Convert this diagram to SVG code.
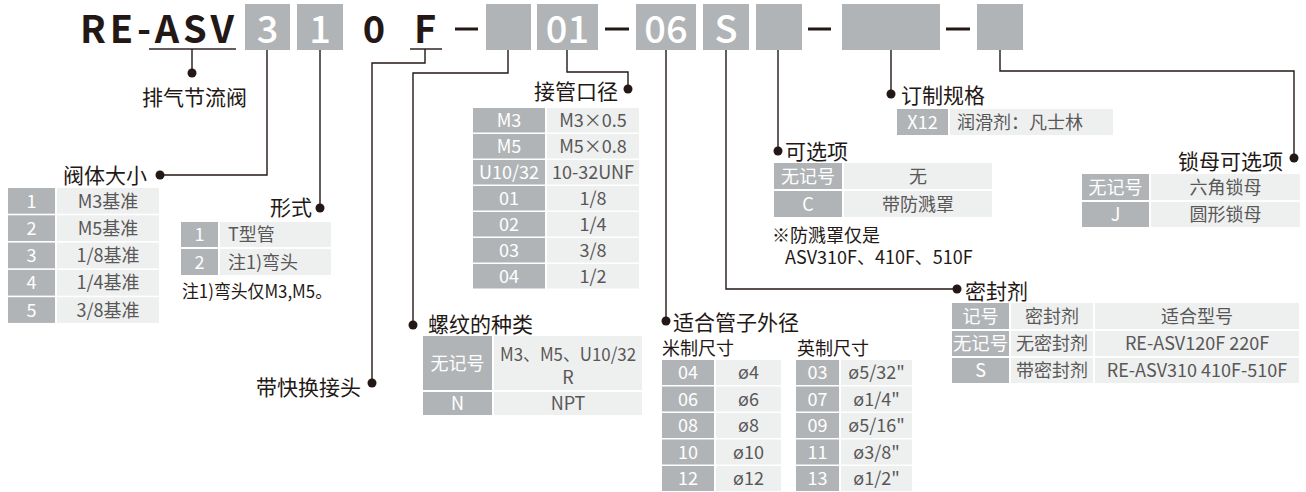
<svg xmlns="http://www.w3.org/2000/svg" width="1306" height="492" viewBox="0 0 1306 492">
<style>
text{font-family:"Noto Sans CJK SC","Noto Sans",sans-serif}
.hb{fill:#b1b4b6}
.g{fill:#b1b4b6}
.l{fill:#eeefef}
.big{font-size:38px;font-weight:700;fill:#231815}
.bw{font-size:38px;font-weight:500;fill:#fff;text-anchor:middle}
.h{font-size:21px;fill:#231815}
.s{font-size:18px;fill:#231815}
.w{font-size:18px;fill:#fff;text-anchor:middle}
.t{font-size:18px;fill:#595757;text-anchor:middle}
.ts{font-size:18px;fill:#595757}
.n{font-size:18px;fill:#231815}
.ln{fill:none;stroke:#231815;stroke-width:1.4}
.dot{fill:#231815}
</style>

<g id="header">
<text class="big" x="80" y="43" textLength="154" lengthAdjust="spacing">RE-ASV</text>
<rect x="149" y="48.3" width="87" height="1.4" fill="#231815"/>
<rect class="hb" x="245" y="4" width="45" height="46"/>
<text class="bw" x="267.5" y="43">3</text>
<rect class="hb" x="297" y="4" width="46" height="46"/>
<text class="bw" x="320" y="43">1</text>
<text class="big" x="374" y="43" text-anchor="middle">0</text>
<text class="big" x="425" y="43" text-anchor="middle">F</text>
<rect x="410" y="48.3" width="32" height="1.4" fill="#231815"/>
<rect x="455" y="27.5" width="23" height="3" fill="#231815"/>
<rect class="hb" x="486" y="4" width="45" height="46"/>
<rect class="hb" x="537" y="4" width="61" height="46"/>
<text class="bw" x="567.5" y="43">01</text>
<rect x="605" y="27.5" width="24" height="3" fill="#231815"/>
<rect class="hb" x="636" y="4" width="60" height="46"/>
<text class="bw" x="666" y="43">06</text>
<rect class="hb" x="703" y="4" width="46" height="46"/>
<text class="bw" x="726" y="43">S</text>
<rect class="hb" x="756" y="4" width="46" height="46"/>
<rect x="808" y="27.5" width="23" height="3" fill="#231815"/>
<rect class="hb" x="842" y="4" width="98" height="46"/>
<rect x="946" y="27.5" width="24" height="3" fill="#231815"/>
<rect class="hb" x="977" y="4" width="46" height="46"/>
</g>

<g id="connectors">
<polyline class="ln" points="192,49 192,73"/>
<circle class="dot" cx="192" cy="73" r="4.5"/>
<polyline class="ln" points="267,50 267,175 160,175"/>
<circle class="dot" cx="160" cy="175" r="4.5"/>
<polyline class="ln" points="320,50 320,208"/>
<circle class="dot" cx="320" cy="208" r="4.5"/>
<polyline class="ln" points="425,49 425,63 372,63 372,383"/>
<circle class="dot" cx="372" cy="383" r="4.5"/>
<polyline class="ln" points="508,50 508,73 413,73 413,325"/>
<circle class="dot" cx="413" cy="325" r="4.5"/>
<polyline class="ln" points="567,50 567,72 628,72 628,89"/>
<circle class="dot" cx="628" cy="89" r="4.5"/>
<polyline class="ln" points="666,50 666,321"/>
<circle class="dot" cx="666" cy="321" r="4.5"/>
<polyline class="ln" points="726,50 726,289 957,289"/>
<circle class="dot" cx="957" cy="289" r="4.5"/>
<polyline class="ln" points="778,50 778,151"/>
<circle class="dot" cx="778" cy="151" r="4.5"/>
<polyline class="ln" points="891,50 891,94"/>
<circle class="dot" cx="891" cy="94" r="4.5"/>
<polyline class="ln" points="1000,50 1000,71 1294,71 1294,158"/>
<circle class="dot" cx="1294" cy="158" r="4.5"/>
</g>

<g id="node-type">
<text class="h" x="142" y="104.5" font-size="20">排气节流阀</text>
</g>

<g id="node-size">
<text class="h" x="63" y="183" font-size="20">阀体大小</text>
<rect class="g" x="8" y="188" width="47" height="25.7"/><rect class="l" x="57" y="188" width="102" height="25.7"/>
<text class="w" x="31.5" y="207.5">1</text><text class="t" x="108" y="207.5">M3基准</text>
<rect class="g" x="8" y="215.3" width="47" height="25.7"/><rect class="l" x="57" y="215.3" width="102" height="25.7"/>
<text class="w" x="31.5" y="234.8">2</text><text class="t" x="108" y="234.8">M5基准</text>
<rect class="g" x="8" y="242.6" width="47" height="25.7"/><rect class="l" x="57" y="242.6" width="102" height="25.7"/>
<text class="w" x="31.5" y="262.1">3</text><text class="t" x="108" y="262.1">1/8基准</text>
<rect class="g" x="8" y="269.9" width="47" height="25.7"/><rect class="l" x="57" y="269.9" width="102" height="25.7"/>
<text class="w" x="31.5" y="289.4">4</text><text class="t" x="108" y="289.4">1/4基准</text>
<rect class="g" x="8" y="297.2" width="47" height="25.7"/><rect class="l" x="57" y="297.2" width="102" height="25.7"/>
<text class="w" x="31.5" y="316.7">5</text><text class="t" x="108" y="316.7">3/8基准</text>
</g>

<g id="node-form">
<text class="h" x="312" y="214.5" text-anchor="end" font-size="20">形式</text>
<rect class="g" x="181" y="222" width="37" height="25"/><rect class="l" x="220" y="222" width="111" height="25"/>
<text class="w" x="199.5" y="241">1</text><text class="ts" x="228" y="241">T型管</text>
<rect class="g" x="181" y="249" width="37" height="26"/><rect class="l" x="220" y="249" width="111" height="26"/>
<text class="w" x="199.5" y="268.5">2</text><text class="ts" x="228" y="268.5">注1)弯头</text>
<text class="n" x="182" y="297.5" textLength="150" lengthAdjust="spacingAndGlyphs">注1)弯头仅M3,M5。</text>
</g>

<g id="node-quick">
<text class="h" x="361" y="395" text-anchor="end" font-size="20">带快换接头</text>
</g>

<g id="node-port">
<text class="h" x="618" y="99" text-anchor="end">接管口径</text>
<rect class="g" x="473" y="108" width="72" height="24.5"/><rect class="l" x="547" y="108" width="92" height="24.5"/>
<text class="w" x="509" y="126.8">M3</text><text class="t" x="593" y="126.8">M3×0.5</text>
<rect class="g" x="473" y="134" width="72" height="24.5"/><rect class="l" x="547" y="134" width="92" height="24.5"/>
<text class="w" x="509" y="152.8">M5</text><text class="t" x="593" y="152.8">M5×0.8</text>
<rect class="g" x="473" y="160" width="72" height="24.5"/><rect class="l" x="547" y="160" width="92" height="24.5"/>
<text class="w" x="509" y="178.8">U10/32</text><text class="t" x="593" y="178.8">10-32UNF</text>
<rect class="g" x="473" y="186" width="72" height="24.5"/><rect class="l" x="547" y="186" width="92" height="24.5"/>
<text class="w" x="509" y="204.8">01</text><text class="t" x="593" y="204.8">1/8</text>
<rect class="g" x="473" y="212" width="72" height="24.5"/><rect class="l" x="547" y="212" width="92" height="24.5"/>
<text class="w" x="509" y="230.8">02</text><text class="t" x="593" y="230.8">1/4</text>
<rect class="g" x="473" y="238" width="72" height="24.5"/><rect class="l" x="547" y="238" width="92" height="24.5"/>
<text class="w" x="509" y="256.8">03</text><text class="t" x="593" y="256.8">3/8</text>
<rect class="g" x="473" y="264" width="72" height="24.5"/><rect class="l" x="547" y="264" width="92" height="24.5"/>
<text class="w" x="509" y="282.8">04</text><text class="t" x="593" y="282.8">1/2</text>
</g>

<g id="node-thread">
<text class="h" x="428" y="332">螺纹的种类</text>
<rect class="g" x="423" y="336" width="69" height="54"/><rect class="l" x="494" y="336" width="148" height="54"/>
<text class="w" x="457.5" y="369.5">无记号</text>
<text class="t" x="568" y="360.5" textLength="136" lengthAdjust="spacingAndGlyphs">M3、M5、U10/32</text>
<text class="t" x="568" y="384">R</text>
<rect class="g" x="423" y="392" width="69" height="23"/><rect class="l" x="494" y="392" width="148" height="23"/>
<text class="w" x="457.5" y="410">N</text><text class="t" x="568" y="410">NPT</text>
</g>

<g id="node-custom">
<text class="h" x="901" y="103">订制规格</text>
<rect class="g" x="897" y="109" width="51" height="26"/><rect class="l" x="950" y="109" width="163" height="26"/>
<text class="w" x="922.5" y="128.5">X12</text><text class="ts" x="957" y="128.5">润滑剂：凡士林</text>
</g>

<g id="node-option">
<text class="h" x="785" y="158.5">可选项</text>
<rect class="g" x="774" y="163" width="68" height="26"/><rect class="l" x="844" y="163" width="148" height="26"/>
<text class="w" x="808" y="182.5">无记号</text><text class="t" x="918" y="182.5">无</text>
<rect class="g" x="774" y="191" width="68" height="26"/><rect class="l" x="844" y="191" width="148" height="26"/>
<text class="w" x="808" y="210.5">C</text><text class="t" x="918" y="210.5">带防溅罩</text>
<text class="n" x="772" y="242">※防溅罩仅是</text>
<text class="n" x="785" y="264">ASV310F、410F、510F</text>
</g>

<g id="node-locknut">
<text class="h" x="1283" y="169" text-anchor="end">锁母可选项</text>
<rect class="g" x="1082" y="174" width="67" height="26"/><rect class="l" x="1151" y="174" width="149" height="26"/>
<text class="w" x="1115.5" y="193.5">无记号</text><text class="t" x="1225.5" y="193.5">六角锁母</text>
<rect class="g" x="1082" y="202" width="67" height="25"/><rect class="l" x="1151" y="202" width="149" height="25"/>
<text class="w" x="1115.5" y="221">J</text><text class="t" x="1225.5" y="221">圆形锁母</text>
</g>

<g id="node-tube">
<text class="h" x="673" y="330">适合管子外径</text>
<text class="s" x="662" y="354.5">米制尺寸</text>
<text class="s" x="797" y="354.5">英制尺寸</text>
<rect class="g" x="662" y="360" width="52" height="25"/><rect class="l" x="716" y="360" width="65" height="25"/>
<text class="w" x="688" y="379">04</text><text class="t" x="748.5" y="379">ø4</text>
<rect class="g" x="662" y="386.5" width="52" height="25"/><rect class="l" x="716" y="386.5" width="65" height="25"/>
<text class="w" x="688" y="405.5">06</text><text class="t" x="748.5" y="405.5">ø6</text>
<rect class="g" x="662" y="413" width="52" height="25"/><rect class="l" x="716" y="413" width="65" height="25"/>
<text class="w" x="688" y="432">08</text><text class="t" x="748.5" y="432">ø8</text>
<rect class="g" x="662" y="439.5" width="52" height="25"/><rect class="l" x="716" y="439.5" width="65" height="25"/>
<text class="w" x="688" y="458.5">10</text><text class="t" x="748.5" y="458.5">ø10</text>
<rect class="g" x="662" y="466" width="52" height="25"/><rect class="l" x="716" y="466" width="65" height="25"/>
<text class="w" x="688" y="485">12</text><text class="t" x="748.5" y="485">ø12</text>
<rect class="g" x="796" y="360" width="43" height="25"/><rect class="l" x="841" y="360" width="71" height="25"/>
<text class="w" x="817.5" y="379">03</text><text class="t" x="876.5" y="379">ø5/32"</text>
<rect class="g" x="796" y="386.5" width="43" height="25"/><rect class="l" x="841" y="386.5" width="71" height="25"/>
<text class="w" x="817.5" y="405.5">07</text><text class="t" x="876.5" y="405.5">ø1/4"</text>
<rect class="g" x="796" y="413" width="43" height="25"/><rect class="l" x="841" y="413" width="71" height="25"/>
<text class="w" x="817.5" y="432">09</text><text class="t" x="876.5" y="432">ø5/16"</text>
<rect class="g" x="796" y="439.5" width="43" height="25"/><rect class="l" x="841" y="439.5" width="71" height="25"/>
<text class="w" x="817.5" y="458.5">11</text><text class="t" x="876.5" y="458.5">ø3/8"</text>
<rect class="g" x="796" y="466" width="43" height="25"/><rect class="l" x="841" y="466" width="71" height="25"/>
<text class="w" x="817.5" y="485">13</text><text class="t" x="876.5" y="485">ø1/2"</text>
</g>

<g id="node-seal">
<text class="h" x="965" y="299">密封剂</text>
<rect class="g" x="952" y="303" width="57" height="26"/><rect class="l" x="1011" y="303" width="82" height="26"/><rect class="l" x="1095" y="303" width="204" height="26"/>
<text class="w" x="980.5" y="322.5">记号</text><text class="t" x="1052" y="322.5">密封剂</text><text class="t" x="1197" y="322.5">适合型号</text>
<rect class="g" x="952" y="331" width="57" height="25"/><rect class="l" x="1011" y="331" width="82" height="25"/><rect class="l" x="1095" y="331" width="204" height="25"/>
<text class="w" x="980.5" y="350" textLength="55" lengthAdjust="spacingAndGlyphs">无记号</text><text class="t" x="1052" y="350">无密封剂</text><text class="t" x="1197" y="350">RE-ASV120F 220F</text>
<rect class="g" x="952" y="358" width="57" height="25"/><rect class="l" x="1011" y="358" width="82" height="25"/><rect class="l" x="1095" y="358" width="204" height="25"/>
<text class="w" x="980.5" y="377">S</text><text class="t" x="1052" y="377">带密封剂</text><text class="t" x="1197" y="377">RE-ASV310 410F-510F</text>
</g>
</svg>
